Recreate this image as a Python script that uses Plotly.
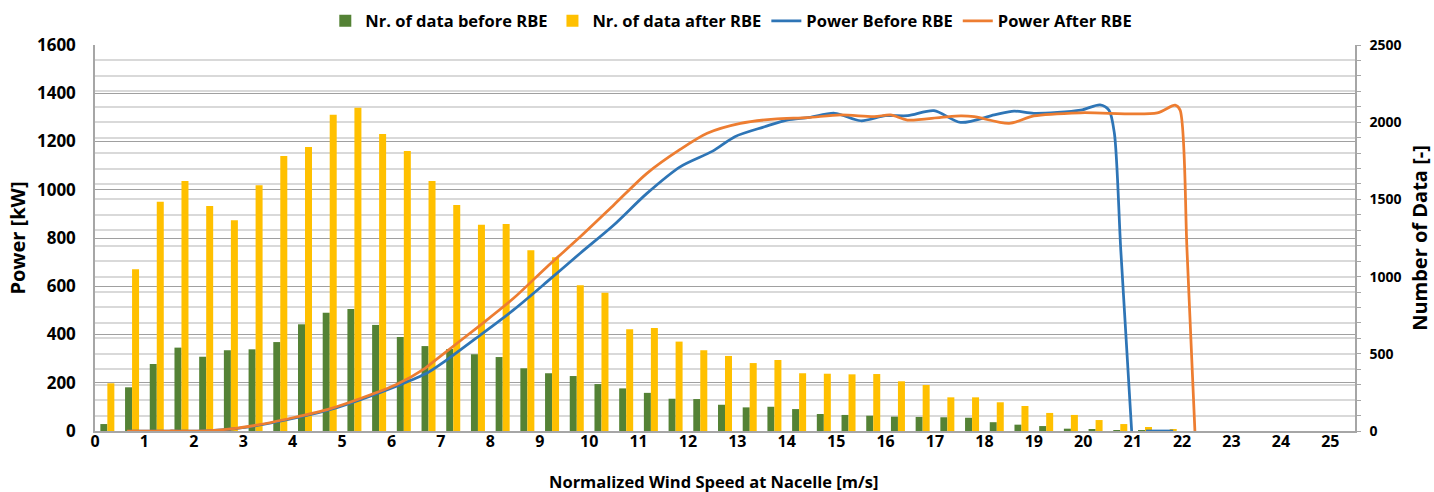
import plotly.graph_objects as go

# ---- Data ----
bin_centers = [0.25, 0.75, 1.25, 1.75, 2.25, 2.75, 3.25, 3.75, 4.25, 4.75, 5.25, 5.75,
               6.25, 6.75, 7.25, 7.75, 8.25, 8.75, 9.25, 9.75, 10.25, 10.75, 11.25, 11.75,
               12.25, 12.75, 13.25, 13.75, 14.25, 14.75, 15.25, 15.75, 16.25, 16.75, 17.25,
               17.75, 18.25, 18.75, 19.25, 19.75, 20.25, 20.75, 21.25, 21.75]
count_before = [45, 283, 434, 540, 481, 523, 529, 576, 691, 766, 790, 687,
                609, 550, 531, 497, 479, 406, 374, 356, 304, 276, 247, 209,
                207, 170, 153, 157, 142, 110, 104, 99, 93, 91, 89,
                86, 57, 41, 32, 15, 9, 6, 5, 1]
count_after = [309, 1047, 1485, 1619, 1457, 1365, 1591, 1781, 1839, 2049, 2094, 1924,
               1814, 1619, 1463, 1336, 1341, 1171, 1126, 944, 896, 659, 667, 579,
               523, 486, 440, 460, 374, 371, 367, 369, 322, 298, 218,
               218, 186, 162, 117, 104, 71, 45, 26, 8]

ws_before = [0.7, 1.5, 2.25, 2.85, 3.4, 4.05, 4.75, 5.4, 6.1, 6.7, 7.1, 7.8, 8.47, 9.15,
             9.82, 10.5, 11.17, 11.85, 12.5, 12.95, 13.55, 14.0, 14.45, 14.97, 15.5, 16.0,
             16.45, 16.98, 17.52, 18.2, 18.6, 19.0, 19.95, 20.34, 20.52, 20.63, 20.76, 20.98,
             None, 21.27, 21.82]
power_before = [0, 0, 1, 10, 27, 54, 88, 132, 186, 238, 292, 398, 502, 619,
                737, 854, 985, 1096, 1160, 1220, 1261, 1289, 1300, 1317, 1286, 1307,
                1307, 1328, 1279, 1310, 1326, 1317, 1330, 1352, 1330, 1235, 750, 0,
                None, 0, 0]

ws_after = [0.65, 1.5, 2.25, 2.85, 3.4, 4.05, 4.75, 5.4, 6.1, 6.68, 6.89, 7.8, 8.47, 9.15,
            9.82, 10.5, 11.17, 11.85, 12.39, 13.06, 13.74, 14.42, 15.09, 15.77, 16.1, 16.44,
            17.12, 17.52, 17.79, 18.5, 19.0, 19.94, 21.5, 21.86, 21.96, 22.1, 22.26]
power_after = [0, 0, 1, 11, 29, 57, 92, 137, 193, 260, 294, 439, 550, 681,
               805, 937, 1068, 1168, 1234, 1275, 1293, 1299, 1310, 1303, 1310, 1289,
               1300, 1306, 1303, 1275, 1306, 1319, 1319, 1351, 1330, 750, 0]

x_ticks = list(range(0, 26))

# ---- Figure ----
FONT = "Open Sans"
B = dict(family=FONT, weight=700, color="black")

fig = go.Figure()
fig.add_trace(go.Bar(x=bin_centers, y=count_before, name="<b>Nr. of data before RBE</b>",
                     marker=dict(color="#548235", line=dict(width=0)), yaxis="y"))
fig.add_trace(go.Bar(x=bin_centers, y=count_after, name="<b>Nr. of data after RBE</b>",
                     marker=dict(color="#FFC000", line=dict(width=0)), yaxis="y"))
fig.add_trace(go.Scatter(x=ws_before, y=power_before, name="<b>Power Before RBE</b>", mode="lines",
                         line=dict(color="#2E75B6", width=2.75, shape="spline", smoothing=0.8),
                         connectgaps=False, yaxis="y2"))
fig.add_trace(go.Scatter(x=ws_after, y=power_after, name="<b>Power After RBE</b>", mode="lines",
                         line=dict(color="#ED7D31", width=2.75, shape="spline", smoothing=0.8),
                         yaxis="y2"))

fig.update_layout(
    width=1434, height=492,
    margin=dict(l=95, r=79, t=45, b=61, autoexpand=False),
    paper_bgcolor="white", plot_bgcolor="white",
    font=B,
    barmode="group", bargap=0.433, bargroupgap=0,
    showlegend=True,
    legend=dict(orientation="h", x=0.505, xanchor="center", y=1.062, yanchor="middle",
                font=dict(size=16.5, **B), itemwidth=30, traceorder="normal"),
    xaxis=dict(range=[0, 25.5], tickmode="array", tickvals=x_ticks,
               ticktext=[str(v) for v in x_ticks], showgrid=False, zeroline=False,
               showline=True, linecolor="#A6A6A6", linewidth=1.5, ticks="",
               automargin=False, ticklabelstandoff=-5,
               tickfont=dict(size=16, **B)),
    yaxis=dict(range=[0, 2500], side="right", dtick=500, showgrid=True,
               gridcolor="#D9D9D9", gridwidth=2, zeroline=False,
               showline=True, linecolor="#A6A6A6", linewidth=1.5,
               ticks="outside", ticklen=4, tickcolor="#A6A6A6", automargin=False,
               ticklabelstandoff=6,
               minor=dict(dtick=100, showgrid=True, gridcolor="#D9D9D9", gridwidth=2,
                          ticks="outside", ticklen=4, tickcolor="#A6A6A6"),
               tickfont=dict(size=14, **B),
               title=dict(text="<b>Number of Data [-]</b>",
                          font=dict(size=20, **B), standoff=12)),
    yaxis2=dict(range=[0, 1600], side="left", overlaying="y", dtick=200, showgrid=True,
                gridcolor="#A0A0A0", gridwidth=1.2, zeroline=False,
                showline=True, linecolor="#A6A6A6", linewidth=1.5, ticks="",
                automargin=False, ticklabelstandoff=14,
                tickfont=dict(size=17, **B),
                title=dict(text="<b>Power [kW]</b>", font=dict(size=20, **B),
                           standoff=6)),
    annotations=[dict(text="<b>Normalized Wind Speed at Nacelle [m/s]</b>",
                      xref="paper", yref="paper", x=0.4905, y=-0.132,
                      xanchor="center", yanchor="middle", showarrow=False,
                      font=dict(size=16.5, **B))],
)

fig.write_html("out.html", config={"displayModeBar": False},
               post_script="document.body.style.margin='0';document.body.style.overflow='hidden';")
